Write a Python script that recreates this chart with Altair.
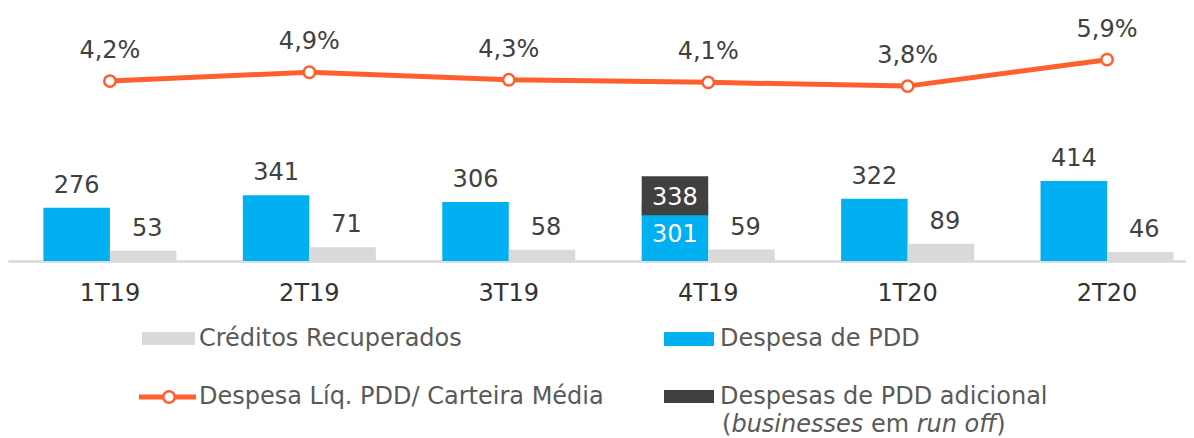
import altair as alt
import pandas as pd

# ---------------- data ----------------
quarters = ["1T19", "2T19", "3T19", "4T19", "1T20", "2T20"]
despesa_pdd = [276, 341, 306, 301, 322, 414]
creditos_recuperados = [53, 71, 58, 59, 89, 46]
despesa_liq_pct = [4.2, 4.9, 4.3, 4.1, 3.8, 5.9]
adicional_quarters = ["4T19"]
adicional_total = [338]

series_blue = "Despesa de PDD"
series_grey = "Créditos Recuperados"
series_line = "Despesa Líq. PDD/ Carteira Média"
series_dark = "Despesas de PDD adicional"
series_dark_note = ["(", "businesses", "em", "run off", ")"]

# ---------------- style ----------------
BLUE = "#00B0F0"
GREY = "#D9D9D9"
DARK = "#404040"
ORANGE = "#FF5F2D"
LABEL = "#404040"
LEGEND_TXT = "#595959"
FONT = "DejaVu Sans"
FS = 24

bars_df = pd.DataFrame({
    "quarter": quarters * 2,
    "series": [series_blue] * len(quarters) + [series_grey] * len(quarters),
    "value": despesa_pdd + creditos_recuperados,
})
bars_df["inside"] = bars_df["quarter"].isin(adicional_quarters) & (bars_df["series"] == series_blue)

add_df = pd.DataFrame({
    "quarter": adicional_quarters,
    "series": [series_blue] * len(adicional_quarters),
    "total": adicional_total,
})

line_df = pd.DataFrame({"quarter": quarters, "pct": despesa_liq_pct})

x_enc = alt.X(
    "quarter:N",
    sort=quarters,
    scale=alt.Scale(paddingInner=0.333, paddingOuter=0.12, align=0.74),
    axis=alt.Axis(title=None, labelFontSize=FS, labelFont=FONT, labelColor="#333333",
                  ticks=False, domainColor=GREY, domainWidth=2.5, labelPadding=20,
                  grid=False, labelAngle=0),
)
xoff_enc = alt.XOffset("series:N", sort=[series_blue, series_grey],
                       scale=alt.Scale(domain=[series_blue, series_grey], paddingInner=0, paddingOuter=0))
bar_scale = alt.Scale(domain=[0, 1311], nice=False, zero=True)
pct_scale = alt.Scale(domain=[-10.08, 10.0], nice=False, zero=False)

bar_base = alt.Chart(bars_df)
bars = bar_base.mark_bar().encode(
    x=x_enc, xOffset=xoff_enc,
    y=alt.Y("value:Q", scale=bar_scale, axis=None),
    color=alt.Color("series:N", scale=alt.Scale(domain=[series_blue, series_grey], range=[BLUE, GREY]), legend=None),
)
lab_blue = bar_base.transform_filter(
    (alt.datum.series == series_blue) & (~alt.datum.inside)
).mark_text(baseline="alphabetic", dy=-15, fontSize=FS, color=LABEL, font=FONT).encode(
    x=x_enc, xOffset=xoff_enc, y=alt.Y("value:Q", scale=bar_scale, axis=None), text="value:Q")
lab_grey = bar_base.transform_filter(
    alt.datum.series == series_grey
).mark_text(baseline="alphabetic", dy=-15, dx=4, fontSize=FS, color=LABEL, font=FONT).encode(
    x=x_enc, xOffset=xoff_enc, y=alt.Y("value:Q", scale=bar_scale, axis=None), text="value:Q")
lab_inside = bar_base.transform_filter(
    alt.datum.inside
).mark_text(baseline="middle", dy=32, fontSize=FS, color="white", font=FONT).encode(
    x=x_enc, xOffset=xoff_enc, y=alt.Y("value:Q", scale=bar_scale, axis=None), text="value:Q")

add_box = alt.Chart(add_df).mark_bar(color=DARK, yOffset=-19.5, y2Offset=19.5).encode(
    x=x_enc, xOffset=xoff_enc,
    y=alt.Y("total:Q", scale=bar_scale, axis=None), y2="total:Q")
add_lab = alt.Chart(add_df).mark_text(baseline="middle", dy=2, fontSize=FS, color="white", font=FONT).encode(
    x=x_enc, xOffset=xoff_enc,
    y=alt.Y("total:Q", scale=bar_scale, axis=None), text="total:Q")

bar_group = alt.layer(bars, lab_blue, lab_grey, lab_inside, add_box, add_lab)

line_base = alt.Chart(line_df)
y_line = alt.Y("pct:Q", scale=pct_scale, axis=None)
line = line_base.mark_line(color=ORANGE, strokeWidth=5).encode(x=x_enc, y=y_line)
pts = line_base.mark_point(shape="circle", filled=True, fill="white", stroke=ORANGE,
                           strokeWidth=2.5, size=130, opacity=1).encode(x=x_enc, y=y_line)
pct_lab = line_base.transform_calculate(
    lbl="replace(format(datum.pct, '.1f'), '.', ',') + '%'"
).mark_text(baseline="alphabetic", dy=-23, fontSize=FS, color=LABEL, font=FONT).encode(
    x=x_enc, y=y_line, text="lbl:N")
line_group = alt.layer(line, pts, pct_lab)

# ---------------- legend (drawn) ----------------
src = pd.DataFrame({"k": [0]})
def leg_rect(color, x1, x2, y1, y2):
    return alt.Chart(src).mark_rect(color=color).encode(
        x=alt.value(x1), x2=alt.value(x2), y=alt.value(y1), y2=alt.value(y2))

def leg_text(txt, x, y, italic=False):
    return alt.Chart(src).mark_text(align="left", baseline="middle", fontSize=FS, color=LEGEND_TXT,
                                    font=FONT, text=txt,
                                    fontStyle="italic" if italic else "normal").encode(
        x=alt.value(x), y=alt.value(y))

legend_layers = [
    leg_rect(GREY, 134, 187, 324, 337),
    leg_text(series_grey, 191, 331),
    leg_rect(BLUE, 656, 706, 324, 338),
    leg_text(series_blue, 712, 331),
    alt.Chart(src).mark_rule(color=ORANGE, strokeWidth=5).encode(
        x=alt.value(131), x2=alt.value(188), y=alt.value(389)),
    alt.Chart(src).mark_point(shape="circle", filled=True, fill="white", stroke=ORANGE,
                              strokeWidth=2.5, size=130, opacity=1).encode(
        x=alt.value(161), y=alt.value(389)),
    leg_text(series_line, 191, 389),
    leg_rect(DARK, 656, 706, 382, 395),
    leg_text(series_dark, 712, 389),
    leg_text(series_dark_note[0], 714, 417),
    leg_text(series_dark_note[1], 723.4, 417, italic=True),
    leg_text(series_dark_note[2], 863, 417),
    leg_text(series_dark_note[3], 908.7, 417, italic=True),
    leg_text(series_dark_note[4], 988.2, 417),
]

chart = alt.layer(bar_group, line_group, *legend_layers).resolve_scale(
    y="independent"
).properties(
    width=1178, height=253, padding=0, background="white"
).configure(font=FONT).configure_view(stroke="transparent", strokeWidth=0)

chart.save("out.html", embed_options={"renderer": "svg", "actions": False})
